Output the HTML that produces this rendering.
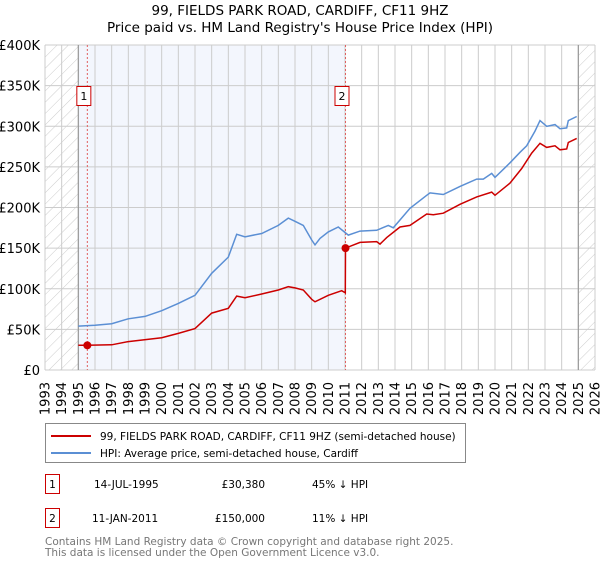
<!DOCTYPE html>
<html><head><meta charset="utf-8">
<style>
body{margin:0;background:#fff;width:600px;height:560px;overflow:hidden;font-family:"DejaVu Sans","Liberation Sans",sans-serif;}
svg text{font-family:"DejaVu Sans","Liberation Sans",sans-serif;}
</style></head>
<body>
<svg id="chart" width="600" height="560" viewBox="0 0 600 560" xmlns="http://www.w3.org/2000/svg">
<defs>
<pattern id="hatch" patternUnits="userSpaceOnUse" width="8" height="8" patternTransform="rotate(45)">
<line x1="0" y1="0" x2="0" y2="8" stroke="#ccc" stroke-width="1"/>
</pattern>
</defs>
<text x="300" y="15" text-anchor="middle" font-size="13.5">99, FIELDS PARK ROAD, CARDIFF, CF11 9HZ</text>
<text x="300" y="32" text-anchor="middle" font-size="13.5">Price paid vs. HM Land Registry's House Price Index (HPI)</text>
<g id="plot"></g>
<g id="legend">
<rect x="45.5" y="423.5" width="420" height="39" fill="#fff" stroke="#888"/>
<line x1="51" y1="436" x2="91" y2="436" stroke="#cc0000" stroke-width="2"/>
<text x="100" y="440" font-size="10.5">99, FIELDS PARK ROAD, CARDIFF, CF11 9HZ (semi-detached house)</text>
<line x1="51" y1="453" x2="91" y2="453" stroke="#5b8fd4" stroke-width="2"/>
<text x="100" y="457" font-size="10.5">HPI: Average price, semi-detached house, Cardiff</text>
</g>
<g font-size="10.5">
<rect x="45.5" y="474.5" width="14" height="19" fill="#fff" stroke="#cc0000"/>
<text x="52.5" y="488" text-anchor="middle">1</text>
<text x="94" y="488">14-JUL-1995</text>
<text x="265" y="488" text-anchor="end">£30,380</text>
<text x="312" y="488">45% ↓ HPI</text>
<rect x="45.5" y="508.5" width="14" height="19" fill="#fff" stroke="#cc0000"/>
<text x="52.5" y="522" text-anchor="middle">2</text>
<text x="92" y="522">11-JAN-2011</text>
<text x="265" y="522" text-anchor="end">£150,000</text>
<text x="312" y="522">11% ↓ HPI</text>
</g>
<text x="45" y="545" font-size="10.5" fill="#777">Contains HM Land Registry data © Crown copyright and database right 2025.</text>
<text x="45" y="556" font-size="10.5" fill="#777">This data is licensed under the Open Government Licence v3.0.</text>
</svg>
<script>
const yearTicks = [1993,1994,1995,1996,1997,1998,1999,2000,2001,2002,2003,2004,2005,2006,2007,2008,2009,2010,2011,2012,2013,2014,2015,2016,2017,2018,2019,2020,2021,2022,2023,2024,2025,2026];
const valueTicks = [0,50,100,150,200,250,300,350,400];
const valueTickLabels = ["£0","£50K","£100K","£150K","£200K","£250K","£300K","£350K","£400K"];
const hpiYears = [1995.0,1996.0,1997.0,1998.0,1999.0,2000.0,2001.0,2002.0,2003.0,2004.0,2004.5,2005.0,2006.0,2007.0,2007.6,2008.0,2008.5,2009.0,2009.2,2009.5,2010.0,2010.6,2011.2,2011.9,2012.9,2013.6,2013.9,2014.9,2015.9,2016.1,2016.9,2017.9,2018.9,2019.3,2019.8,2020.0,2020.9,2021.5,2021.9,2022.4,2022.7,2023.1,2023.6,2023.9,2024.3,2024.4,2024.9];
const hpiValues = [54,55,57,63,66,73,82,92,119,139,167,164,168,178,187,183,178,160,154,162,170,176,166,171,172,178,175,199,215,218,216,226,235,235,242,237,255,268,276,294,307,300,302,297,298,307,312];
const priceYears = [1995.0,1995.54,1997.0,1998.0,2000.0,2001.0,2002.0,2003.0,2004.0,2004.5,2005.0,2006.0,2007.0,2007.6,2008.0,2008.5,2009.0,2009.2,2010.0,2010.8,2011.02,2011.03,2011.9,2012.9,2013.1,2013.5,2014.3,2014.9,2015.9,2016.3,2016.9,2017.9,2018.9,2019.8,2020.0,2020.9,2021.6,2022.2,2022.7,2023.1,2023.6,2023.9,2024.3,2024.4,2024.9];
const priceValues = [30.4,30.38,31,35,39.8,45,51,70,76,91,89,93.5,98.5,102.5,101,98.5,87,84,92,97.6,95,150,157,158,155,163,176,178,192,191,193,204,213,219,215,230,248,267,279,274,276,271,272,280,285];
const saleYears = [1995.54, 2011.03];
const saleValues = [30.38, 150];
const saleLabels = ["1","2"];

const X0=45, X1=595, Y0=370, Y1=45;
const xs = y => X0 + (y-1993)/(2026-1993)*(X1-X0);
const ys = v => Y0 - v/400*(Y0-Y1);
const NS="http://www.w3.org/2000/svg";
const plot=document.getElementById('plot');
function mk(tag, attrs, parent){const e=document.createElementNS(NS,tag);for(const k in attrs)e.setAttribute(k,attrs[k]);(parent||plot).appendChild(e);return e;}

let r;
r=mk('rect',{x:xs(1993),y:Y1,width:xs(1995)-xs(1993),height:Y0-Y1,fill:'url(#hatch)'});


r=mk('rect',{x:xs(1995),y:Y1,width:xs(saleYears[1])-xs(1995),height:Y0-Y1,fill:'#f3f6fd'});


r=mk('rect',{x:xs(2025),y:Y1,width:X1-xs(2025),height:Y0-Y1,fill:'url(#hatch)'});



yearTicks.forEach(y=>{
  const l=mk('line',{x1:xs(y),x2:xs(y),y1:Y1,y2:Y0,stroke:'#ccc','stroke-width':1});
  
  
  const t=mk('text',{transform:`translate(${xs(y)+4.5},382) rotate(-90)`,'text-anchor':'end','font-size':13});
  
  
  t.textContent=y;
});
valueTicks.forEach((v,i)=>{
  const l=mk('line',{x1:X0,x2:X1,y1:ys(v),y2:ys(v),stroke:'#ccc','stroke-width':1});
  
  
  const t=mk('text',{x:40,y:ys(v)+5,'text-anchor':'end','font-size':13});
  
  
  t.textContent=valueTickLabels[i];
});
[1995,2025].forEach(y=>{
  const l=mk('line',{x1:xs(y),x2:xs(y),y1:Y1,y2:Y0,stroke:'#999','stroke-width':1.2});
  
  
});

saleYears.forEach((y,i)=>{
  const l=mk('line',{x1:xs(y),x2:xs(y),y1:Y1,y2:Y0,stroke:'#e06060','stroke-width':1,'stroke-dasharray':'2,2'});
  
  
});

function pts(a,b){return a.map((y,i)=>xs(y).toFixed(1)+','+ys(b[i]).toFixed(1)).join(' ');}
let p=mk('polyline',{points:pts(hpiYears,hpiValues),fill:'none',stroke:'#5b8fd4','stroke-width':1.5});


p=mk('polyline',{points:pts(priceYears,priceValues),fill:'none',stroke:'#cc0000','stroke-width':1.5});



saleYears.forEach((y,i)=>{
  const c=mk('circle',{cx:xs(y),cy:ys(saleValues[i]),r:4,fill:'#cc0000'});
  
  
  const bx=mk('rect',{x:xs(y)-10.5,y:86.5,width:14,height:19,fill:'#fff',stroke:'#cc0000'});
  
  
  const t=mk('text',{x:xs(y)-3.5,y:100,'text-anchor':'middle','font-size':11});
  
  
  t.textContent=saleLabels[i];
});
</script>
</body></html>
